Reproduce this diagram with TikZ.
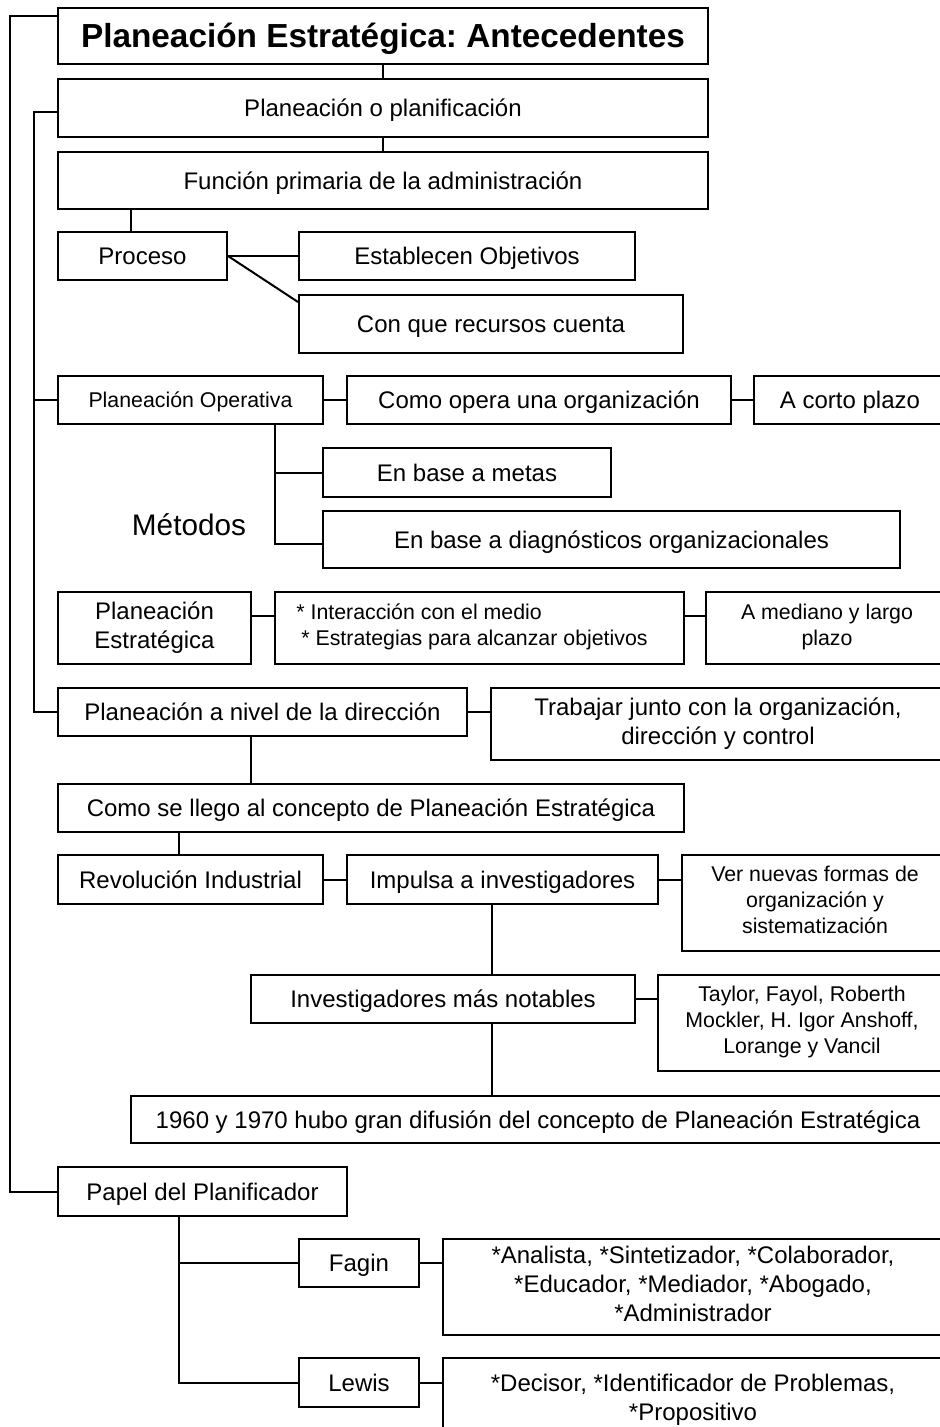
\documentclass[tikz,border=0pt]{standalone}
\usepackage{fontspec}
\setmainfont{Liberation Sans}
\usepackage{tikz}

\frenchspacing
\newcommand{\mainsz}{\fontsize{18}{21.75}\selectfont}
\newcommand{\smallsz}{\fontsize{16}{19.5}\selectfont}
% strut centred on the capitals
\newcommand{\cstrut}{\rule[-0.278em]{0pt}{1.272em}}
\tikzset{
  box/.style 2 args={draw, line width=1.5pt, inner sep=0pt, anchor=north west, align=center,
    minimum width=#1*0.75pt, minimum height=#2*0.75pt, font=\mainsz,
    execute at begin node=\cstrut, execute at end node=\cstrut},
  smallbox/.style 2 args={box={#1}{#2}, font=\smallsz},
  link/.style={line width=1.5pt},
}

\begin{document}
\begin{tikzpicture}[x=0.75pt,y=0.75pt,yscale=-1,xscale=1]
\useasboundingbox (0,0) rectangle (939,1427);

% Title
\node [box={650}{56}, font=\fontsize{25}{29}\selectfont\bfseries] (title) at (57,7) {Planeación Estratégica: Antecedentes};
% Text Node
\node [box={650}{58}] (plan) at (57,78) {Planeación o planificación};
% Text Node
\node [box={650}{57}] (func) at (57,151) {Función primaria de la administración};
% Text Node
\node [box={169}{48}] (proc) at (57,231) {Proceso};
\node [box={336}{48}] (objs) at (298,231) {Establecen Objetivos};
\node [box={384}{58}] (recs) at (298,294) {Con que recursos cuenta};
% Operativa
\node [smallbox={265}{48}] (oper) at (57,375) {Planeación Operativa};
\node [box={384}{48}] (opera) at (346,375) {Como opera una organización};
\node [box={192}{48}] (corto) at (753,375) {A corto plazo};
\node [box={288}{49}] (metas) at (322,447) {En base a metas};
\node [box={577}{57}] (diag) at (322,510) {En base a diagnósticos organizacionales};
% Text Node
\node [font=\fontsize{22.3}{26}\selectfont] (metodos) at (189,525) {Métodos};
% Estrategica
\node [box={193}{72}] (estr) at (57,591) {Planeación\\Estratégica};
\node [smallbox={409}{72}, align=left] (inter) at (274,591) {* Interacción con el medio\\\hspace*{3.75pt}* Estrategias para alcanzar objetivos\hspace*{11.25pt}};
\node [smallbox={242}{72}] (mediano) at (705,591) {A mediano y largo\\plazo};
% Direccion
\node [box={409}{48}] (direc) at (57,687) {Planeación a nivel de la dirección};
\node [box={454}{72}] (trab) at (490,687) {Trabajar junto con la organización,\\dirección y control};
\node [box={626}{48}] (como) at (57,783) {Como se llego al concepto de Planeación Estratégica};
\node [box={265}{49}] (revo) at (57,854) {Revolución Industrial};
\node [box={311}{49}] (impu) at (346,854) {Impulsa a investigadores};
\node [smallbox={266}{96}] (formas) at (681,854) {Ver nuevas formas de\\organización y\\sistematización};
\node [box={384}{48}] (inves) at (250,974) {Investigadores más notables};
\node [smallbox={288}{96}] (autores) at (657,974) {Taylor, Fayol, Roberth\\Mockler, H. Igor Anshoff,\\Lorange y Vancil};
\node [box={814}{47}] (difu) at (130,1095) {1960 y 1970 hubo gran difusión del concepto de Planeación Estratégica};
% Planificador
\node [box={289}{49}] (papel) at (57,1166) {Papel del Planificador};
\node [box={120}{48}] (fagin) at (298,1238) {Fagin};
\node [box={500}{96}] (roles1) at (442,1238) {*Analista, *Sintetizador, *Colaborador,\\*Educador, *Mediador, *Abogado,\\*Administrador};
\node [box={120}{49}] (lewis) at (298,1357) {Lewis};
\node [box={500}{86}] (roles2) at (442,1357) {*Decisor, *Identificador de Problemas,\\*Propositivo};

% Connectors
\coordinate (outer) at (10,16);
\coordinate (inner) at (34,112);
\draw [link] (title.west |- outer) -- (outer) |- (papel.west);
\draw [link] (plan.west |- inner) -- (inner) |- (direc.west);
\draw [link] (inner |- oper.west) -- (oper.west);
\draw [link] (title.south) -- (plan.north);
\draw [link] (plan.south) -- (func.north);
\draw [link] ([xshift=-8.6pt]proc.north) -- ([xshift=-8.6pt]proc.north |- func.south);
\draw [link] (proc.east) -- (objs.west);
\draw [link] (proc.east) -- ([yshift=6pt]recs.north west);
\draw [link] (oper.east) -- (oper.east -| opera.west);
\draw [link] (opera.east) -- (opera.east -| corto.west);
\coordinate (met) at ([xshift=63.4pt]oper.south);
\draw [link] (met) |- ([yshift=3.4pt]diag.west);
\draw [link] (met |- metas.west) -- (metas.west);
\draw [link] ([yshift=-9pt]estr.east) -- ([yshift=-9pt]inter.west);
\draw [link] ([yshift=-9pt]inter.east) -- ([yshift=-9pt]mediano.west);
\draw [link] (direc.east) -- (direc.east -| trab.west);
\draw [link] ([xshift=-8.6pt]direc.south) -- ([xshift=-8.6pt]direc.south |- como.north);
\draw [link] ([xshift=-8.6pt]revo.north) -- ([xshift=-8.6pt]revo.north |- como.south);
\draw [link] (revo.east) -- (revo.east -| impu.west);
\draw [link] (impu.east) -- (impu.east -| formas.west);
\coordinate (inv) at ([xshift=-7.9pt]impu.south);
\draw [link] (inv) -- (inv |- inves.north);
\draw [link] (inv |- inves.south) -- (inv |- difu.north);
\draw [link] (inves.east) -- (inves.east -| autores.west);
\coordinate (plf) at ([xshift=-17.6pt]papel.south);
\draw [link] (plf) |- (lewis.west);
\draw [link] (plf |- fagin.west) -- (fagin.west);
\draw [link] (fagin.east) -- (fagin.east -| roles1.west);
\draw [link] (lewis.east) -- (lewis.east -| roles2.west);

\end{tikzpicture}
\end{document}
